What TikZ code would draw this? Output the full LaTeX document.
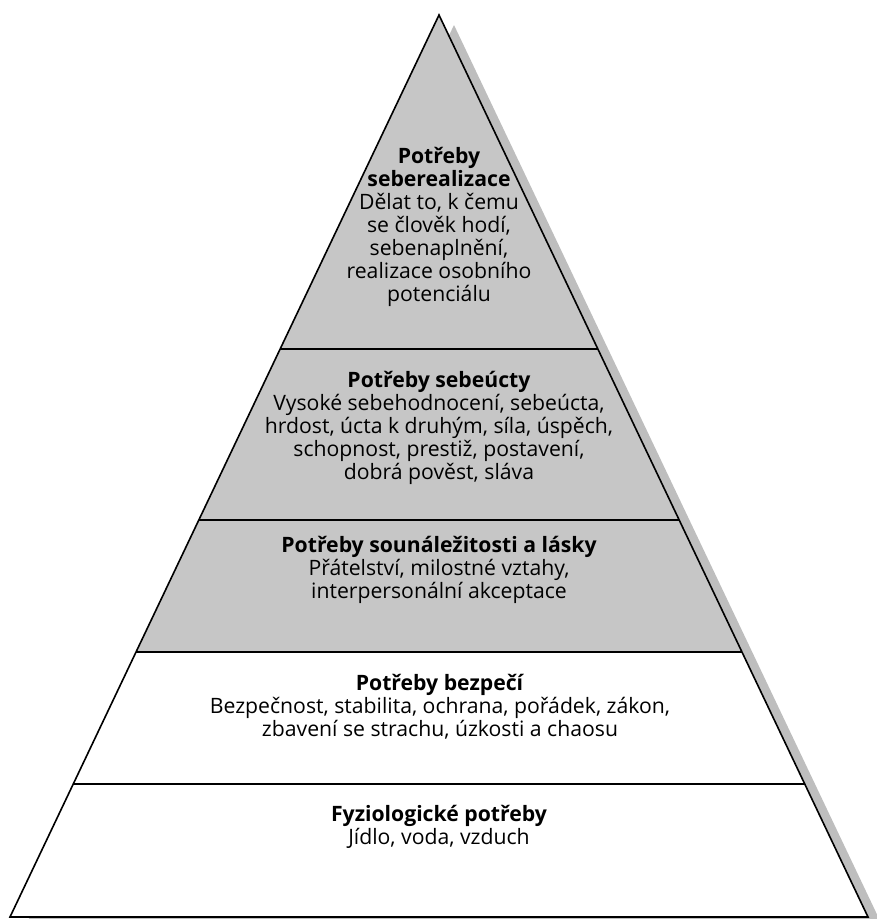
\documentclass[tikz,border=0pt]{standalone}
\usepackage{fontspec}
\setmainfont{Open Sans}
\usetikzlibrary{calc}
\definecolor{stepgray}{RGB}{198,198,198}
\definecolor{shadowgray}{RGB}{190,190,190}
\tikzset{
  levelbox/.style={align=center, inner sep=0pt, font=\fontsize{21.2}{23}\selectfont},
}
\begin{document}
\begin{tikzpicture}[x=1pt, y=-1pt]
    \useasboundingbox (0,0) rectangle (877,919);
    \coordinate (apex) at (439,15);
    \coordinate (bl) at (10,917);
    \coordinate (br) at (868,917);
    % shadow
    \fill[shadowgray] ([shift={(15,10)}]apex) -- ([shift={(15,10)}]br) -- ([shift={(15,10)}]bl) -- cycle;
    % split points on the sides
    \foreach \n/\h in {a/349, b/520, c/652, d/784} {
      \coordinate (l\n) at ($(apex)!{(\h-15)/902}!(bl)$);
      \coordinate (r\n) at ($(apex)!{(\h-15)/902}!(br)$);
    }
    \fill[stepgray] (apex) -- (rc) -- (lc) -- cycle;
    \fill[white] (lc) -- (rc) -- (br) -- (bl) -- cycle;
    \draw[line width=1.6pt, line join=miter] (apex) -- (br) -- (bl) -- cycle;
    \draw[line width=1.2pt] (la) -- (ra);
    \draw[line width=1.2pt] (lb) -- (rb);
    \draw[line width=1.2pt] (lc) -- (rc);
    \draw[line width=1.2pt] (ld) -- (rd);
    % texts
    \node[levelbox] (selfreal) at (439,227) {\textbf{Potřeby}\\\textbf{seberealizace}\\Dělat to, k čemu\\se člověk hodí,\\sebenaplnění,\\realizace osobního\\potenciálu};
    \node[levelbox] (esteem) at (439,428) {\textbf{Potřeby sebeúcty}\\Vysoké sebehodnocení, sebeúcta,\\hrdost, úcta k druhým, síla, úspěch,\\schopnost, prestiž, postavení,\\dobrá pověst, sláva};
    \node[levelbox] (love) at (439,570) {\textbf{Potřeby sounáležitosti a lásky}\\Přátelství, milostné vztahy,\\interpersonální akceptace};
    \node[levelbox] (safety) at (440,707) {\textbf{Potřeby bezpečí}\\Bezpečnost, stabilita, ochrana, pořádek, zákon,\\zbavení se strachu, úzkosti a chaosu};
    \node[levelbox] (physio) at (439,827) {\textbf{Fyziologické potřeby}\\Jídlo, voda, vzduch};
\end{tikzpicture}
\end{document}
